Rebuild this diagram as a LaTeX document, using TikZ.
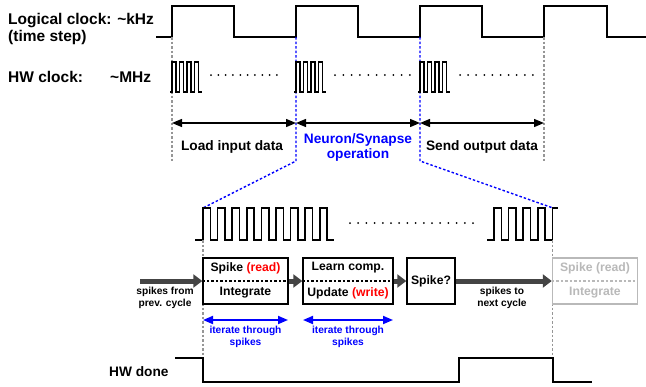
\documentclass[tikz,border=0pt]{standalone}
\usepackage{fontspec}
\setmainfont{Liberation Sans}
\usetikzlibrary{arrows.meta}
\definecolor{arrowgray}{RGB}{68,68,68}
\definecolor{dashgray}{RGB}{150,150,150}
\definecolor{ghost}{RGB}{185,185,185}
\definecolor{myblue}{RGB}{0,0,255}
\definecolor{myred}{RGB}{255,0,0}
\begin{document}
\begin{tikzpicture}[x=1pt,y=-1pt,
  wave/.style={line width=1.6pt, line join=miter, black},
  vguide/.style={dashgray, line width=1.2pt, dash pattern=on 2.5pt off 2pt},
  bguide/.style={myblue, line width=1.4pt, dash pattern=on 2.5pt off 2pt},
  span/.style={line width=1.4pt, {Triangle[length=10pt,width=8pt]}-{Triangle[length=10pt,width=8pt]}},
  iter/.style={myblue, line width=1.8pt, {Triangle[length=10pt,width=8pt]}-{Triangle[length=10pt,width=8pt]}},
  flow/.style={arrowgray, line width=5pt, -{Triangle[length=9pt,width=13pt]}},
  stage/.style={draw, line width=1.4pt, fill=white, minimum height=46pt, inner sep=0pt},
  split/.style={line width=1.2pt, dash pattern=on 2.5pt off 2pt},
  lbl/.style={font=\bfseries\fontsize{13.7}{16}\selectfont, inner sep=0pt},
  biglbl/.style={font=\bfseries\fontsize{15.5}{17}\selectfont, inner sep=0pt},
  boxtxt/.style={font=\bfseries\fontsize{12.2}{14}\selectfont, inner sep=0pt},
  small/.style={font=\bfseries\fontsize{10.2}{12}\selectfont, align=center, inner sep=0pt}]
\useasboundingbox (0,0) rectangle (646,386);

% ---- labels top left
\node[biglbl, anchor=west] (lc) at (8,21) {Logical clock: \textasciitilde kHz};
\node[biglbl, anchor=west] (ts) at (8,37) {(time step)};
\node[biglbl, anchor=west] (hw) at (8,77) {HW clock:};
\node[biglbl, anchor=west] (mhz) at (110,77) {\textasciitilde MHz};

% ---- logical clock
\draw[wave] (156,37) -- (172,37) -- (172,6) -- (234,6) -- (234,37) -- (296,37) -- (296,6)
  -- (358,6) -- (358,37) -- (420,37) -- (420,6) -- (482,6) -- (482,37) -- (544,37)
  -- (544,6) -- (607,6) -- (607,37) -- (646,37);

% ---- guides
\draw[vguide] (172,37) -- (172,162);
\draw[vguide] (544,37) -- (544,162);
\draw[bguide] (296,37) -- (296,161) -- (203,208);
\draw[bguide] (420,37) -- (420,161) -- (553,208);

% ---- small HW clock bursts
\foreach \xs in {172,296,420}{
  \draw[wave, line width=1.2pt] ({\xs-2},92) -- (\xs,92)
    \foreach \k in {0,...,3}{ -- ++(0,-30) -- ++(4,0) -- ++(0,30) -- ++(3.5,0) };
}
\foreach \i in {0,...,9}{
  \fill ({211+\i*7.33},75) circle (1pt);
  \fill ({335+\i*8.33},75) circle (1pt);
  \fill ({460+\i*8.1},75) circle (1pt);
}

% ---- phase arrows
\coordinate (p0) at (172,123);
\coordinate (p1) at (296,123);
\coordinate (p2) at (420,123);
\coordinate (p3) at (544,123);
\draw[span] (p0) -- (p1);
\draw[span] (p1) -- (p2);
\draw[span] (p2) -- (p3);
\node[lbl] (load) at (232,147) {Load input data};
\node[lbl, myblue, align=center] (neu) at (358,147) {Neuron/Synapse\\[-1pt]operation};
\node[lbl] (send) at (482,147) {Send output data};

% ---- zoomed HW clock
\draw[wave] (195,240) -- (203,240)
  \foreach \k in {0,...,8}{ -- ++(0,-32) -- ++(7.3,0) -- ++(0,32) -- ++(7.3,0) };
\draw[wave] (487,240) -- (494,240)
  \foreach \k in {0,...,3}{ -- ++(0,-32) -- ++(7.3,0) -- ++(0,32) -- ++(7.3,0) } -- ++(0,-32) -- ++(6,0);
\foreach \i in {0,...,15}{
  \fill ({350+\i*8.2},223) circle (1pt);
}

% ---- lower guides
\draw[vguide] (203,240) -- (203,358);
\draw[vguide] (552.5,240) -- (552.5,358);

% ---- stages
\node[stage, minimum width=85pt] (b1) at (245.5,281) {};
\node[stage, minimum width=90pt] (b2) at (348,281) {};
\node[stage, minimum width=48pt] (b3) at (431,281) {};
\node[stage, minimum width=85pt, draw=ghost] (b4) at (595,281) {};
\draw[split] (b1.west) -- (b1.east);
\draw[split] (b2.west) -- (b2.east);
\draw[split, ghost] (b4.west) -- (b4.east);
\node[boxtxt] (b1a) at (245.5,268) {Spike \textcolor{myred}{(read)}};
\node[boxtxt] (b1b) at (245.5,293) {Integrate};
\node[boxtxt] (b2a) at (348,268) {Learn comp.};
\node[boxtxt] (b2b) at (348,293) {Update \textcolor{myred}{(write)}};
\node[boxtxt] (b3a) at (431,281) {Spike?};
\node[boxtxt, text=ghost] (b4a) at (595,268) {Spike (read)};
\node[boxtxt, text=ghost] (b4b) at (595,293) {Integrate};

% ---- flow arrows
\coordinate (in) at (140,281);
\draw[flow] (in) -- (b1.west);
\draw[flow] (b1.east) -- (b2.west);
\draw[flow] (b2.east) -- (b3.west);
\draw[flow] (b3.east) -- (b4.west);
\node[small] (sf) at (165,298) {spikes from\\prev. cycle};
\node[small] (st) at (502,298) {spikes to\\next cycle};

% ---- iterate arrows
\coordinate (i1a) at (203,320);
\coordinate (i1b) at (288,320);
\coordinate (i2a) at (303,320);
\coordinate (i2b) at (393,320);
\draw[iter] (i1a) -- (i1b);
\draw[iter] (i2a) -- (i2b);
\node[small, myblue] (it1) at (245.5,337) {iterate through\\spikes};
\node[small, myblue] (it2) at (348,337) {iterate through\\spikes};

% ---- HW done
\node[lbl, anchor=west] (done) at (109,372) {HW done};
\draw[wave] (175,358) -- (203,358) -- (203,382) -- (459,382) -- (459,358) -- (553,358)
  -- (553,382) -- (592,382);
\end{tikzpicture}
\end{document}
